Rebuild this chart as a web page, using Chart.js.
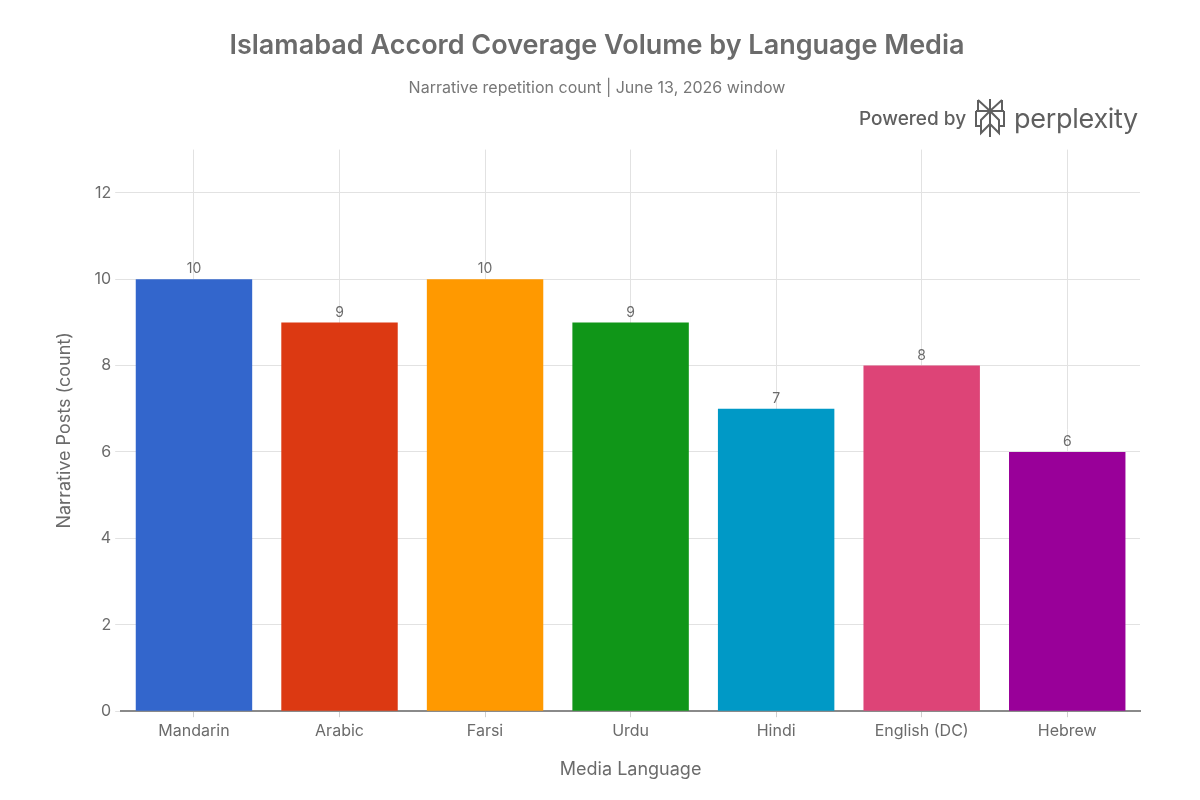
<!DOCTYPE html>
<html>
<head>
<meta charset="utf-8">
<script src="https://cdn.jsdelivr.net/npm/chart.js@4/dist/chart.umd.min.js"></script>
<style>
  html, body { margin: 0; padding: 0; background: #fff; }
  #wrap { position: relative; width: 1200px; height: 800px; }
  #barChart { position: absolute; left: 0; top: 0; }
  #brand {
    position: absolute; right: 62px; top: 99px; height: 38px;
    display: flex; align-items: center; color: #5f5f5f;
    font-family: Inter, "Liberation Sans", sans-serif;
  }
  #brand .pw { font-size: 19px; font-weight: 500; margin-right: 8px; }
  #brand .px { font-size: 27px; font-weight: 400; margin-left: 8px; letter-spacing: -0.3px; }
</style>
</head>
<body>
<div id="wrap">
  <canvas id="barChart" width="1200" height="800"></canvas>
  <div id="brand">
    <span class="pw">Powered by</span>
    <svg width="32" height="40" viewBox="0 0 32 40" fill="none" stroke="#5f5f5f" stroke-width="2" stroke-linejoin="miter">
      <line x1="16" y1="1" x2="16" y2="39"/>
      <polyline points="4,2 16,13 28,2"/>
      <line x1="4" y1="2" x2="4" y2="13"/>
      <line x1="28" y1="2" x2="28" y2="13"/>
      <line x1="2" y1="13" x2="30" y2="13"/>
      <polyline points="16,13 7,22 7,35 16,26"/>
      <polyline points="16,13 25,22 25,35 16,26"/>
      <polyline points="2,13 2,28 7,28"/>
      <polyline points="30,13 30,28 25,28"/>
    </svg>
    <span class="px">perplexity</span>
  </div>
</div>
<script>
// Chart data
const languages = ['Mandarin', 'Arabic', 'Farsi', 'Urdu', 'Hindi', 'English (DC)', 'Hebrew'];
const postCounts = [10, 9, 10, 9, 7, 8, 6];
const barColors = ['#3366CC', '#DC3912', '#FF9900', '#109618', '#0099C6', '#DD4477', '#990099'];

const textColor = '#6b6b6b';
const fontFamily = 'Inter, "Liberation Sans", sans-serif';

// Draws the count above each bar
const valueLabels = {
    id: 'valueLabels',
    afterDatasetsDraw(chart) {
        const ctx = chart.ctx;
        const meta = chart.getDatasetMeta(0);
        ctx.save();
        ctx.fillStyle = textColor;
        ctx.font = '14px ' + fontFamily;
        ctx.textAlign = 'center';
        ctx.textBaseline = 'bottom';
        meta.data.forEach((bar, i) => {
            ctx.fillText(chart.data.datasets[0].data[i], bar.x, bar.y - 3);
        });
        ctx.restore();
    }
};

const barChart = new Chart(document.getElementById('barChart'), {
    type: 'bar',
    data: {
        labels: languages,
        datasets: [{
            label: 'Narrative Posts',
            data: postCounts,
            backgroundColor: barColors,
            borderWidth: 0,
            categoryPercentage: 0.8,
            barPercentage: 1.0
        }]
    },
    options: {
        responsive: false,
        animation: false,
        layout: { padding: { top: 30, left: 54, right: 60, bottom: 20 } },
        plugins: {
            legend: { display: false },
            tooltip: { enabled: false },
            title: {
                display: true,
                text: 'Islamabad Accord Coverage Volume by Language Media',
                color: textColor,
                font: { family: fontFamily, size: 27, weight: '600' },
                padding: { top: 0, bottom: 16 }
            },
            subtitle: {
                display: true,
                text: 'Narrative repetition count | June 13, 2026 window',
                color: '#777',
                font: { family: fontFamily, size: 16 },
                padding: { top: 0, bottom: 52 }
            }
        },
        scales: {
            x: {
                grid: { offset: false, color: '#e2e2e2', tickLength: 6, tickColor: '#cfcfcf' },
                border: { color: '#8a8a8a', width: 2 },
                ticks: { color: textColor, font: { family: fontFamily, size: 16 }, padding: 4 },
                title: {
                    display: true, text: 'Media Language', color: textColor,
                    font: { family: fontFamily, size: 18 }, padding: { top: 14, bottom: 0 }
                }
            },
            y: {
                min: 0, max: 13,
                afterBuildTicks(scale) {
                    scale.ticks = [0, 2, 4, 6, 8, 10, 12].map(v => ({ value: v }));
                },
                grid: { color: '#e2e2e2', tickLength: 6 },
                border: { display: false },
                ticks: { color: textColor, font: { family: fontFamily, size: 16 }, padding: 4 },
                title: {
                    display: true, text: 'Narrative Posts (count)', color: textColor,
                    font: { family: fontFamily, size: 18 }, padding: { top: 0, bottom: 15 }
                }
            }
        }
    },
    plugins: [valueLabels]
});
</script>
</body>
</html>
